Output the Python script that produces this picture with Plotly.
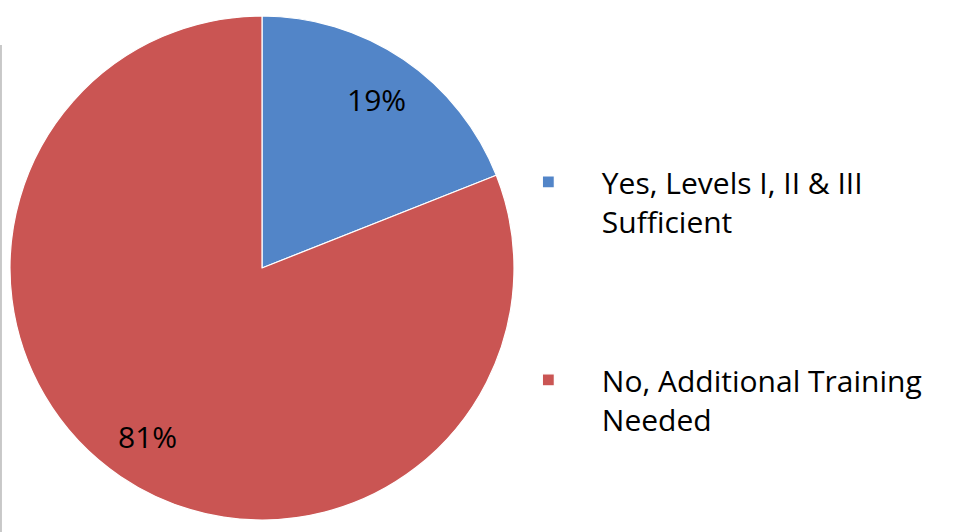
import math
import plotly.graph_objects as go

labels = ["Yes, Levels I, II & III<br>Sufficient", "No, Additional Training<br>Needed"]
values = [19, 81]
colors = ["#5285C8", "#CA5553"]

W, H = 959, 532
cx, cy, R = 262, 268, 252  # pixel centre/radius of pie

# legend text with extra blank lines to create the item gap
legend_text = [labels[0] + "<br> <br> <br> ", labels[1]]

fig = go.Figure()
fig.add_trace(go.Pie(
    labels=legend_text,
    values=values,
    sort=False,
    direction="clockwise",
    rotation=0,
    textinfo="none",
    hoverinfo="label+percent",
    marker=dict(colors=colors, line=dict(color="#FFFFFF", width=1.2)),
    domain=dict(x=[(cx - R) / W, (cx + R) / W],
                y=[(H - cy - R) / H, (H - cy + R) / H]),
))

# percentage labels placed along each slice bisector
total = sum(values)
cum = 0
annotations = []
for v in values:
    mid = (cum + v / 2) / total * 2 * math.pi
    cum += v
    r = 0.81 * R
    px = cx + r * math.sin(mid)
    py = cy - r * math.cos(mid)
    annotations.append(dict(
        x=px / W, y=1 - py / H, xref="paper", yref="paper",
        text=f"{round(v / total * 100)}%", showarrow=False,
        font=dict(family="Open Sans", size=30, color="#000000"),
        xanchor="center", yanchor="middle"))

fig.update_layout(
    width=W, height=H,
    margin=dict(l=0, r=0, t=0, b=0),
    paper_bgcolor="#FFFFFF",
    plot_bgcolor="#FFFFFF",
    showlegend=True,
    legend=dict(
        x=0.516, y=0.707, xanchor="left", yanchor="top",
        font=dict(family="Open Sans", size=30, color="#000000"),
        valign="top",
        itemwidth=97,
        bgcolor="rgba(0,0,0,0)",
    ),
    annotations=annotations,
    shapes=[dict(type="line", xref="paper", yref="paper",
                 x0=0.001, x1=0.001, y0=0, y1=1 - 45 / H,
                 line=dict(color="#C8C8C8", width=2))],
)

fig.write_html("out.html")
